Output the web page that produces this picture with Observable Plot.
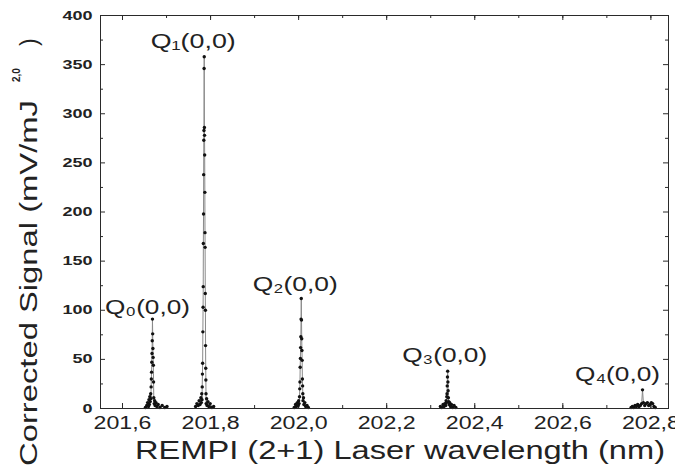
<!DOCTYPE html>
<html>
<head>
<meta charset="utf-8">
<script src="https://cdn.jsdelivr.net/npm/d3@7"></script>
<script src="https://cdn.jsdelivr.net/npm/@observablehq/plot@0.6"></script>
<style>
  html, body { margin: 0; padding: 0; background: #fff; }
  #chart svg { display: block; }
</style>
</head>
<body>
<div id="chart"></div>
<script>
// REMPI (2+1) scan of the Q-branch (0,0) bands: laser wavelength (nm) vs corrected signal.
const q0Wavelength = [201.652, 201.655, 201.657, 201.659, 201.660, 201.661, 201.662, 201.663, 201.664, 201.6645,
  201.665, 201.6655, 201.666, 201.6665, 201.667, 201.6675, 201.668, 201.6685, 201.669, 201.6695,
  201.670, 201.6705, 201.671, 201.672, 201.673, 201.674, 201.676, 201.678, 201.681, 201.685,
  201.690, 201.696, 201.701];
const q0Signal = [1, 3, 6, 2, 9, 4, 12, 7, 15, 10,
  22, 30, 37, 47, 56, 69, 91, 76, 61, 52,
  44, 27, 11, 5, 8, 3, 6, 2, 4, 1,
  3, 1, 2];

const q1Wavelength = [201.766, 201.769, 201.772, 201.774, 201.776, 201.778, 201.779, 201.780, 201.7805, 201.781,
  201.7815, 201.782, 201.7825, 201.783, 201.7833, 201.7836, 201.784, 201.7843, 201.7846, 201.785,
  201.7853, 201.7856, 201.786, 201.7863, 201.7866, 201.787, 201.7873, 201.7876, 201.788, 201.7883,
  201.7886, 201.789, 201.7893, 201.7896, 201.790, 201.791, 201.792, 201.794, 201.796, 201.799,
  201.803, 201.807];
const q1Signal = [2, 5, 3, 8, 4, 11, 6, 15, 9, 22,
  35, 46, 78, 103, 124, 168, 198, 238, 273, 283,
  346, 358, 286, 278, 258, 220, 179, 164, 117, 100,
  64, 41, 29, 15, 5, 10, 3, 7, 2, 5,
  1, 2];

const q2Wavelength = [201.990, 201.993, 201.995, 201.997, 201.999, 202.000, 202.001, 202.002, 202.0025, 202.003,
  202.0035, 202.004, 202.0045, 202.005, 202.0055, 202.006, 202.0065, 202.007, 202.0075, 202.008,
  202.0085, 202.009, 202.0095, 202.010, 202.011, 202.012, 202.014, 202.016, 202.019, 202.022];
const q2Signal = [1, 4, 2, 6, 3, 8, 5, 12, 20, 27,
  42, 51, 62, 73, 91, 112, 90, 71, 59, 49,
  30, 23, 15, 8, 11, 4, 6, 2, 3, 1];

const q3Wavelength = [202.322, 202.325, 202.328, 202.330, 202.332, 202.334, 202.335, 202.336, 202.3365, 202.337,
  202.3375, 202.338, 202.3385, 202.339, 202.3395, 202.340, 202.341, 202.342, 202.343, 202.345,
  202.347, 202.350, 202.353, 202.357];
const q3Signal = [2, 1, 4, 2, 5, 3, 8, 6, 12, 15,
  23, 32, 38, 27, 18, 11, 7, 4, 6, 2,
  4, 1, 3, 1];

const q4Wavelength = [202.755, 202.758, 202.761, 202.764, 202.767, 202.770, 202.773, 202.776, 202.779, 202.781,
  202.783, 202.786, 202.789, 202.792, 202.795, 202.798, 202.801, 202.804, 202.807, 202.810];
const q4Signal = [1, 2, 1, 3, 2, 4, 2, 3, 5, 19,
  6, 3, 5, 6, 3, 4, 6, 5, 2, 1];

const bandNames = ["Q0", "Q1", "Q2", "Q3", "Q4"];
const bandLabels = ["Q\u2080(0,0)", "Q\u2081(0,0)", "Q\u2082(0,0)", "Q\u2083(0,0)", "Q\u2084(0,0)"];

const xMajorTicks = [201.6, 201.8, 202.0, 202.2, 202.4, 202.6, 202.8];
const xMinorTicks = [201.6, 201.7, 201.8, 201.9, 202.0, 202.1, 202.2, 202.3, 202.4, 202.5, 202.6, 202.7, 202.8];
const yMajorTicks = [0, 50, 100, 150, 200, 250, 300, 350, 400];
const yMinorTicks = [25, 75, 125, 175, 225, 275, 325, 375];

const xTitle = "REMPI (2+1) Laser wavelength (nm)";
const yTitle = "Corrected Signal (mV/mJ";
const yTitleExponent = "2,0";
const yTitleClose = ")";

// Assemble the scan into rows, one series per band.
const wavelengths = [q0Wavelength, q1Wavelength, q2Wavelength, q3Wavelength, q4Wavelength];
const signals = [q0Signal, q1Signal, q2Signal, q3Signal, q4Signal];
const rows = bandNames.flatMap((band, b) =>
  wavelengths[b].map((wl, i) => ({band, wavelength: wl, signal: signals[b][i]})));

// Peak of each band carries its label.
const peaks = bandNames.map((band, b) => {
  const i = d3.maxIndex(signals[b]);
  return {band, label: bandLabels[b], wavelength: wavelengths[b][i], signal: signals[b][i]};
});
const labelDx = [-5, -11, -6, -3, -25];
const labelDy = [-5, -9, -7, -9, -9];

const width = 675, height = 473;
const margin = {left: 100, right: 7, top: 15, bottom: 65};
const innerW = width - margin.left - margin.right;
const innerH = height - margin.top - margin.bottom;
const ink = "#2a2a2a";
const font = "'Liberation Sans', Arial, Helvetica, sans-serif";

const plot = Plot.plot({
  width, height,
  marginLeft: margin.left, marginRight: margin.right,
  marginTop: margin.top, marginBottom: margin.bottom,
  style: {fontFamily: font, background: "#fff", color: ink, overflow: "visible"},
  x: {domain: [201.55, 202.84]},
  y: {domain: [0, 400]},
  marks: [
    // inward ticks on all four sides
    Plot.ruleX(xMinorTicks, {x: d => d, insetTop: innerH - 3, stroke: ink}),
    Plot.ruleX(xMajorTicks, {x: d => d, insetTop: innerH - 5, stroke: ink}),
    Plot.ruleX(xMinorTicks, {x: d => d, insetBottom: innerH - 3, stroke: ink}),
    Plot.ruleX(xMajorTicks, {x: d => d, insetBottom: innerH - 5, stroke: ink}),
    Plot.ruleY(yMinorTicks, {y: d => d, insetRight: innerW - 3, stroke: ink}),
    Plot.ruleY(yMajorTicks, {y: d => d, insetRight: innerW - 5, stroke: ink}),
    Plot.ruleY(yMinorTicks, {y: d => d, insetLeft: innerW - 3, stroke: ink}),
    Plot.ruleY(yMajorTicks, {y: d => d, insetLeft: innerW - 5, stroke: ink}),
    Plot.axisX(xMajorTicks, {tickSize: 0, tickPadding: 8, fontSize: 18, fill: "#222",
      tickFormat: d => d.toFixed(1).replace(".", ","), label: null}),
    Plot.axisY(yMajorTicks, {tickSize: 0, tickPadding: 8, fontSize: 12.5, fill: "#222",
      fontWeight: "bold", label: null}),
    Plot.line(rows, {x: "wavelength", y: "signal", z: "band", stroke: "#8a8a8a", strokeWidth: 1}),
    Plot.dot(rows, {x: "wavelength", y: "signal", r: 1.7, fill: "#111", stroke: null}),
    ...peaks.map((p, i) => Plot.text([p], {
      x: "wavelength", y: "signal", text: "label",
      dx: labelDx[i], dy: labelDy[i], lineAnchor: "bottom", textAnchor: "middle",
      fontSize: 21, fill: "#222"
    })),
    Plot.frame({stroke: ink, strokeWidth: 1})
  ]
});

document.getElementById("chart").append(plot);

const svg = d3.select(plot);

// Fit a text to a set length, widening its glyphs like the printed figure.
function fit(selection, lengthOf) {
  selection.each(function () {
    this.setAttribute("textLength", lengthOf(this.textContent));
    this.setAttribute("lengthAdjust", "spacingAndGlyphs");
  });
}
fit(svg.selectAll('g[aria-label="x-axis tick label"] text'), s => 11.6 * s.length);
fit(svg.selectAll('g[aria-label="y-axis tick label"] text'), s => 10 * s.length);
fit(svg.selectAll('g[aria-label="text"] text'), () => 85);

// Axis titles
const xt = svg.append("text")
  .attr("x", 400).attr("y", 459)
  .attr("text-anchor", "middle")
  .attr("font-family", font).attr("font-size", 26).attr("fill", "#222")
  .text(xTitle);
fit(xt, () => 530);

const yt = svg.append("g").attr("transform", "translate(37,466) rotate(-90)")
  .attr("font-family", font).attr("fill", "#222").attr("text-anchor", "start");
const yMain = yt.append("text").attr("x", 0).attr("y", 0).attr("font-size", 23).text(yTitle);
fit(yMain, () => 366);
yt.append("text").attr("x", 384).attr("y", -17).attr("font-size", 10).attr("font-weight", "bold")
  .text(yTitleExponent);
yt.append("text").attr("x", 420).attr("y", 0).attr("font-size", 23).text(yTitleClose);
</script>
</body>
</html>
